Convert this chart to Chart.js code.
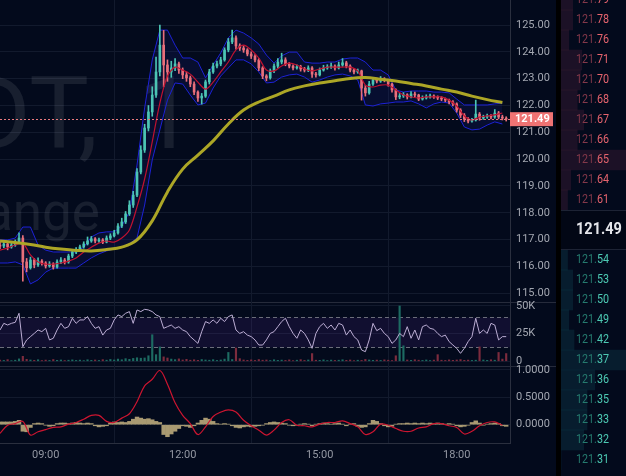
<!DOCTYPE html>
<html>
<head>
<meta charset="utf-8">
<title>Price chart</title>
<script src="https://cdn.jsdelivr.net/npm/chart.js@4.4.1/dist/chart.umd.min.js"></script>
<style>
  html, body { margin: 0; padding: 0; background: #030a1c; }
  body { width: 626px; height: 476px; position: relative; overflow: hidden; }
  canvas { position: absolute; display: block; }
  #mainChart { left: 0; top: 0; }
  #oscChart { left: 0; top: 296px; }
  #macdChart { left: 0; top: 360px; }
  #bookChart { left: 561px; top: 0; }
  .sep { position: absolute; background: #262b3b; }
</style>
</head>
<body>
<canvas id="mainChart" width="556" height="302"></canvas>
<div class="sep" style="left:0;top:302px;width:556px;height:1px"></div>
<div class="sep" style="left:0;top:366px;width:556px;height:1px"></div>
<canvas id="oscChart" width="556" height="70"></canvas>
<canvas id="macdChart" width="556" height="116"></canvas>
<div style="position:absolute;left:556px;top:0;width:5px;height:476px;background:#000"></div>
<canvas id="bookChart" width="65" height="476"></canvas>
<script>
"use strict";
// time axis in minutes since midnight
const sessionStart = 480; // 08:00
const sessionEnd = 1150;
const candleStep = 5;
const bandStep = 10;
const slowStep = 20;

const timeTicks = [540, 720, 900, 1080];
const timeLabels = ["09:00", "12:00", "15:00", "18:00"];
const priceTicks = [115, 116, 117, 118, 119, 120, 121, 122, 123, 124, 125];
const oscTicks = [0, 25, 50];
const oscTickLabels = ["0", "25K", "50K"];
const macdTicks = [0, 0.5, 1];
const macdTickLabels = ["0.0000", "0.5000", "1.0000"];

// 5 minute candles
const firstOpen = 116.80;
const closes = [116.76,116.84,116.73,116.80,116.88,117.06,116.17,115.95,116.24,116.06,
  116.20,116.13,116.02,116.09,115.98,116.17,116.24,116.17,116.39,116.54,
  116.61,116.73,116.84,116.95,117.03,116.95,116.99,116.91,117.06,117.14,
  117.25,117.51,117.66,117.96,118.29,118.66,119.52,120.34,121.16,121.76,
  122.39,123.25,124.25,123.51,123.25,123.40,123.55,123.32,123.14,123.03,
  122.80,122.50,122.28,122.35,122.88,123.25,123.47,123.55,123.70,124.07,
  124.37,124.52,124.22,124.14,124.07,123.92,123.84,123.70,123.40,123.10,
  123.03,123.29,123.47,123.62,123.70,123.55,123.47,123.40,123.44,123.36,
  123.32,123.40,123.17,123.14,123.32,123.40,123.44,123.47,123.40,123.51,
  123.59,123.47,123.32,123.25,123.29,122.65,122.47,122.80,122.95,122.91,
  122.99,122.95,122.80,122.58,122.32,122.36,122.40,122.32,122.43,122.39,
  122.24,122.28,122.32,122.35,122.32,122.28,122.24,122.20,122.13,122.06,
  121.83,121.64,121.49,121.42,121.46,121.68,121.53,121.57,121.61,121.57,
  121.72,121.57,121.53,121.49];
const highs = [116.92,116.95,116.90,116.88,116.99,117.25,117.15,116.30,116.35,116.30,
  116.32,116.26,116.18,116.18,116.14,116.25,116.33,116.30,116.46,116.62,
  116.70,116.80,116.92,117.10,117.12,117.08,117.06,117.04,117.14,117.22,
  117.35,117.60,117.80,118.05,118.45,118.80,119.65,120.50,121.30,122.00,
  122.70,123.80,125.00,124.80,123.70,123.65,123.75,123.62,123.40,123.25,
  123.10,122.88,122.55,122.45,122.95,123.35,123.58,123.66,123.80,124.15,
  124.50,124.81,124.60,124.30,124.22,124.12,124.00,123.90,123.75,123.45,
  123.15,123.36,123.55,123.75,123.95,123.78,123.60,123.52,123.52,123.50,
  123.42,123.48,123.45,123.24,123.40,123.50,123.52,123.58,123.52,123.62,
  123.75,123.65,123.52,123.38,123.36,123.32,122.75,122.90,123.05,123.02,
  123.08,123.04,122.98,122.84,122.62,122.45,122.48,122.44,122.52,122.50,
  122.42,122.36,122.40,122.43,122.40,122.36,122.33,122.28,122.24,122.18,
  122.10,121.88,121.70,121.55,121.52,122.20,121.74,121.64,121.68,121.66,
  121.85,121.78,121.64,121.58];
const lows = [116.66,116.70,116.62,116.68,116.75,116.85,115.45,115.80,115.90,115.95,
  116.00,116.05,115.94,115.97,115.90,115.94,116.10,116.09,116.12,116.33,
  116.48,116.56,116.68,116.80,116.90,116.88,116.90,116.85,116.88,117.00,
  117.10,117.20,117.45,117.60,117.90,118.20,118.60,119.45,120.25,121.05,
  121.60,122.30,123.10,122.70,122.90,123.05,123.30,123.20,123.00,122.90,
  122.70,122.40,122.15,122.05,122.30,122.80,123.20,123.40,123.48,123.65,
  124.00,124.30,124.10,124.05,123.98,123.85,123.75,123.62,123.30,123.00,
  122.92,122.98,123.22,123.40,123.55,123.48,123.40,123.33,123.35,123.28,
  123.25,123.26,123.05,123.06,123.10,123.28,123.35,123.38,123.32,123.36,
  123.46,123.40,123.25,123.18,123.20,122.20,122.35,122.42,122.75,122.84,
  122.86,122.88,122.72,122.50,122.22,122.25,122.30,122.24,122.28,122.32,
  122.18,122.20,122.24,122.27,122.26,122.22,122.18,122.14,122.06,121.98,
  121.75,121.55,121.40,121.35,121.38,121.42,121.45,121.48,121.52,121.50,
  121.52,121.50,121.46,121.42];

// 10 minute samples of the band indicator
const maMid = [116.61,116.69,116.80,116.87,116.43,116.17,116.09,116.09,116.13,116.20,
  116.32,116.54,116.72,116.87,116.95,116.91,117.06,117.36,118.22,119.26,
  120.64,122.09,123.10,123.43,123.32,123.17,122.87,122.61,122.87,123.25,
  123.62,124.07,124.25,124.07,123.77,123.32,123.29,123.47,123.58,123.51,
  123.36,123.29,123.36,123.43,123.43,123.43,123.43,123.29,122.76,122.69,
  122.76,122.76,122.58,122.39,122.32,122.28,122.32,122.32,122.32,122.20,
  121.98,121.61,121.46,121.57,121.61,121.65,121.72];
const bandUpper = [116.99,116.99,117.06,117.47,117.47,116.80,116.61,116.54,116.54,116.54,
  116.54,116.72,117.10,117.25,117.29,117.29,117.51,118.03,119.78,121.91,
  123.70,124.81,124.81,124.25,123.77,123.77,123.62,123.03,123.51,123.96,
  124.52,124.81,124.70,124.52,124.29,123.88,123.58,123.85,123.99,123.99,
  123.62,123.58,123.58,123.62,123.62,123.73,123.77,123.77,123.62,123.32,
  123.32,123.14,122.58,122.50,122.54,122.54,122.54,122.50,122.50,122.47,
  122.24,122.02,122.02,122.02,122.02,122.06,122.09];
const bandLower = [116.13,116.13,116.17,116.06,115.35,115.50,115.79,115.94,115.94,115.94,
  115.94,116.13,116.32,116.47,116.58,116.65,116.72,116.84,117.06,118.29,
  119.97,121.09,122.20,122.84,122.80,122.39,122.02,122.09,122.65,123.10,
  123.40,123.70,123.70,123.55,123.25,122.84,122.87,123.06,123.14,123.17,
  123.06,122.87,122.95,123.06,123.14,123.17,123.10,122.95,122.02,121.98,
  122.06,122.09,122.13,122.13,122.17,122.06,121.91,122.06,122.13,122.09,
  121.72,121.20,121.09,121.12,121.27,121.39,121.31];
// 20 minute samples of the slow average
const maSlow = [116.95,116.89,116.82,116.72,116.65,116.60,116.58,116.63,116.72,116.99,
  117.70,118.78,119.63,120.15,120.68,121.31,121.83,122.13,122.35,122.58,
  122.73,122.84,122.92,123.01,123.04,122.98,122.91,122.82,122.73,122.61,
  122.50,122.35,122.22,122.11];

// lower panes, 5 minute samples, values in thousands
const oscillator = [28.3,34.3,32.8,34.3,35.2,43.4,13.2,19.3,22.3,25.2,
  28.3,26.8,29.8,19.3,20.8,28.3,34.3,29.8,31.3,38.9,
  34.3,37.4,37.4,40.4,34.3,29.8,31.3,23.7,28.3,29.8,
  37.4,41.9,40.4,43.4,44.9,34.3,46.4,44.9,47.0,46.4,
  44.9,41.9,40.4,29.8,31.3,32.8,29.8,31.3,28.3,26.8,
  22.3,19.3,16.2,26.8,35.9,34.3,37.4,34.3,38.9,35.9,
  40.4,41.9,28.3,25.2,26.8,23.7,22.3,19.3,14.7,14.7,
  19.3,25.2,26.8,31.3,35.9,38.9,31.3,25.2,20.8,28.3,
  25.2,19.3,11.7,25.2,31.3,34.3,29.8,32.8,28.3,34.3,
  32.8,23.7,28.3,22.3,19.3,10.2,8.7,19.3,34.3,27.7,
  29.8,25.2,22.3,16.2,19.3,25.2,22.3,31.3,20.8,28.3,
  19.3,31.3,32.8,29.8,28.9,25.2,22.3,23.7,17.8,14.7,
  11.7,7.2,11.7,17.8,22.3,38.9,25.2,28.3,25.2,34.3,
  32.8,19.3,22.3,22.3];
const oscLevels = [40, 12.7];
const volume = [1.2,0.8,1.5,0.6,1.0,2.2,4.5,1.8,1.2,0.9,
  1.4,0.7,1.1,0.8,1.6,0.9,1.2,0.7,1.0,1.3,
  0.8,1.1,0.6,1.4,0.9,1.2,0.8,1.5,1.0,1.7,
  1.2,2.0,1.4,2.4,1.8,2.6,3.2,2.8,3.0,5.0,
  24.0,6.0,13.0,4.0,3.0,2.0,1.5,2.2,1.2,1.8,
  1.0,1.4,0.9,1.6,1.2,1.0,1.5,0.8,1.2,2.0,
  8.0,1.6,12.0,2.4,1.2,0.9,1.3,0.8,1.6,1.0,
  1.2,0.7,1.4,0.9,1.1,0.8,1.3,0.6,1.0,1.5,
  0.8,1.2,7.0,1.0,0.9,1.3,0.7,1.1,0.8,1.0,
  1.4,0.9,1.2,0.6,1.0,0.8,1.7,1.2,0.9,1.1,
  0.8,1.3,1.0,0.7,5.0,50.0,14.0,1.2,0.9,1.4,
  1.0,0.8,1.2,0.7,1.1,6.0,1.0,0.8,1.3,0.9,
  1.2,1.6,0.9,1.1,0.8,1.0,13.0,1.2,0.9,1.4,
  1.0,8.0,2.0,7.0];
const macdHist = [0.05,0.05,0.05,0.05,0.06,0.08,-0.12,-0.13,-0.05,0.02,
  0.03,0.02,-0.01,-0.03,-0.02,0.02,0.03,0.03,0.02,0.03,
  0.04,0.03,0.02,0.03,0.02,-0.02,-0.04,-0.03,-0.02,0.03,
  0.05,0.04,0.05,0.04,0.06,0.10,0.14,0.12,0.10,0.11,
  0.09,0.06,0.04,-0.18,-0.22,-0.17,-0.12,-0.07,-0.02,-0.03,
  -0.05,-0.02,0.03,0.08,0.12,0.10,0.06,0.02,0.01,0.02,
  0.01,-0.02,-0.05,-0.06,-0.04,-0.03,-0.04,-0.03,-0.02,-0.01,
  0.02,0.04,0.05,0.04,0.03,0.02,-0.01,-0.02,-0.01,0.01,
  0.02,0.01,-0.02,0.01,0.02,0.03,0.02,0.01,0.02,0.03,
  0.01,-0.02,0.01,0.02,-0.03,-0.05,-0.04,0.02,0.08,0.06,
  0.02,-0.02,-0.04,-0.03,0.01,0.02,0.02,0.03,0.02,0.03,
  0.02,0.03,0.02,0.03,0.02,0.03,0.02,0.01,0.02,0.01,
  -0.02,-0.04,-0.03,-0.01,0.04,0.07,0.03,-0.01,0.01,0.02,
  0.03,0.02,-0.02,-0.03];
// 10 minute samples
const macdLine = [-0.16,-0.01,0.02,0.06,-0.19,-0.13,-0.09,-0.05,-0.04,0.01,
  0.04,0.10,0.17,0.17,0.06,0.04,0.12,0.20,0.42,0.71,
  0.83,0.99,0.74,0.40,0.17,0.02,-0.18,-0.04,0.15,0.23,
  0.27,0.23,0.08,-0.02,-0.10,-0.19,-0.10,0.04,0.09,-0.01,
  -0.02,-0.04,0.01,0.04,0.04,0.07,0.02,-0.04,-0.18,-0.13,
  0.01,-0.01,-0.07,-0.12,-0.12,-0.06,-0.04,0.02,0.02,-0.02,
  -0.05,-0.17,-0.12,-0.02,0.04,0.05,-0.01];

// order book
const askPrices = ["121.79","121.78","121.76","121.71","121.70","121.68","121.67","121.66","121.65","121.64","121.61"];
const askDepth = [18, 18, 12, 32, 30, 25, 35, 25, 100, 15, 10];
const bidPrices = ["121.54","121.53","121.50","121.49","121.42","121.37","121.36","121.35","121.33","121.32","121.31"];
const bidDepth = [10, 18, 18, 12, 20, 100, 52, 40, 40, 35, 0];

const upColor = "#4cc4b4";
const downColor = "#e86f7b";
const gridColor = "#121a2d";
const axisLine = "#2a2f3e";
const labelColor = "#a3a7b1";

Chart.defaults.font.family = "Roboto, 'Noto Sans', sans-serif";

const atStep = (arr, step) => arr.map((v, i) => ({ x: sessionStart + i * step, y: v }));
const opens = closes.map((c, i) => i === 0 ? firstOpen : closes[i - 1]);
const candleColors = closes.map((c, i) => c >= opens[i] ? upColor : downColor);
const volColors = candleColors.map(c => c === upColor ? "#1d6b62" : "#7c2b3d");
const lastPrice = closes[closes.length - 1];

function xScale(showLabels) {
    return {
        type: "linear", min: sessionStart, max: sessionEnd, offset: false,
        afterBuildTicks: s => { s.ticks = timeTicks.map(v => ({ value: v })); },
        afterFit: s => { s.height = showLabels ? 33 : 0; s.paddingLeft = 0; s.paddingRight = 0; },
        grid: { color: gridColor, drawTicks: false },
        border: { display: showLabels, color: axisLine },
        ticks: { display: showLabels, color: "#9397a2", font: { size: 11 }, padding: 6, maxRotation: 0, autoSkip: false,
            callback: (v, i) => timeLabels[i] }
    };
}
function yScale(min, max, ticks, labels) {
    return {
        position: "right", min: min, max: max,
        afterBuildTicks: s => { s.ticks = ticks.map(v => ({ value: v })); },
        afterFit: s => { s.width = 46; s.paddingTop = 0; s.paddingBottom = 0; },
        grid: { color: gridColor, drawTicks: false },
        border: { display: true, color: axisLine },
        ticks: { color: labelColor, font: { size: 11 }, padding: 6, callback: (v, i) => labels[i] }
    };
}
function baseOptions(scales, padTop) {
    return {
        responsive: false, animation: false, events: [],
        layout: { padding: { top: padTop || 0, left: 0, right: 0, bottom: 0 } },
        plugins: { legend: { display: false }, tooltip: { enabled: false } },
        scales: scales
    };
}

// faint symbol watermark behind the candles
const watermark = {
    id: "watermark",
    beforeDatasetsDraw(chart) {
        const ctx = chart.ctx;
        ctx.save();
        ctx.fillStyle = "rgba(255,255,255,0.085)";
        ctx.font = "400 100px Roboto, 'Noto Sans', sans-serif";
        ctx.fillText("DT,", -35, 148);
        ctx.fillText("1", 138, 148);
        ctx.font = "400 53px Roboto, 'Noto Sans', sans-serif";
        ctx.fillText("ange", -16, 230);
        ctx.restore();
    }
};

// dashed last price line and its label on the axis
const lastPriceMark = {
    id: "lastPriceMark",
    afterDatasetsDraw(chart) {
        const { ctx, chartArea: a, scales: { y } } = chart;
        const py = Math.round(y.getPixelForValue(lastPrice)) + 0.5;
        ctx.save();
        ctx.strokeStyle = "#e87a7e";
        ctx.lineWidth = 1;
        ctx.setLineDash([2, 2]);
        ctx.beginPath(); ctx.moveTo(a.left, py); ctx.lineTo(a.right, py); ctx.stroke();
        ctx.restore();
    },
    afterDraw(chart) {
        const { ctx, chartArea: a, scales: { y } } = chart;
        const py = y.getPixelForValue(lastPrice);
        ctx.save();
        ctx.fillStyle = "#ef7373";
        ctx.fillRect(a.right, py - 7, 43, 14);
        ctx.fillStyle = "#ffffff";
        ctx.font = "bold 11px Roboto, sans-serif";
        ctx.textBaseline = "middle";
        ctx.fillText(lastPrice.toFixed(2), a.right + 5, py + 0.5);
        ctx.restore();
    }
};

const mainChart = new Chart("mainChart", {
    type: "line",
    data: {
        datasets: [
            { data: atStep(bandUpper, bandStep), borderColor: "#1d22d6", borderWidth: 1, pointRadius: 0,
              fill: "+1", backgroundColor: "rgba(32,36,150,0.17)", order: 6 },
            { data: atStep(bandLower, bandStep), borderColor: "#1d22d6", borderWidth: 1, pointRadius: 0,
              fill: false, order: 5 },
            { type: "bar", data: closes.map((c, i) => ({ x: sessionStart + i * candleStep, y: [lows[i], highs[i]] })),
              backgroundColor: candleColors, barThickness: 1, grouped: false, order: 4 },
            { type: "bar", data: closes.map((c, i) => ({ x: sessionStart + i * candleStep, y: [opens[i], c] })),
              backgroundColor: candleColors, barThickness: 2, minBarLength: 1, grouped: false, order: 3 },
            { data: atStep(maMid, bandStep), borderColor: "#bf1230", borderWidth: 1.2, pointRadius: 0,
              tension: 0.3, fill: false, order: 2 },
            { data: atStep(maSlow, slowStep), borderColor: "#aca626", borderWidth: 3, pointRadius: 0,
              tension: 0.4, fill: false, order: 1 }
        ]
    },
    options: baseOptions({
        x: xScale(false),
        y: yScale(114.676, 125.932, priceTicks, priceTicks.map(v => v.toFixed(2)))
    }),
    plugins: [watermark, lastPriceMark]
});

// shaded range of the oscillator pane
const oscBand = {
    id: "oscBand",
    beforeDatasetsDraw(chart) {
        const { ctx, chartArea: a, scales: { y } } = chart;
        const top = Math.round(y.getPixelForValue(oscLevels[0])) + 0.5;
        const bot = Math.round(y.getPixelForValue(oscLevels[1])) + 0.5;
        ctx.save();
        ctx.fillStyle = "rgba(100,50,170,0.15)";
        ctx.fillRect(a.left, top, a.right - a.left, bot - top);
        ctx.strokeStyle = "#6b6e7a";
        ctx.lineWidth = 1;
        ctx.setLineDash([4, 3]);
        [top, bot].forEach(p => { ctx.beginPath(); ctx.moveTo(a.left, p); ctx.lineTo(a.right, p); ctx.stroke(); });
        ctx.restore();
    }
};

const oscChart = new Chart("oscChart", {
    type: "line",
    data: {
        datasets: [
            { type: "bar", data: atStep(volume, candleStep), backgroundColor: volColors, barThickness: 1.5, order: 2 },
            { data: atStep(oscillator, candleStep), borderColor: "#bcaed4", borderWidth: 1, pointRadius: 0, fill: false, order: 1 }
        ]
    },
    options: baseOptions({
        x: xScale(false),
        y: yScale(-4.25, 53.6, oscTicks, oscTickLabels)
    }, 6),
    plugins: [oscBand]
});

const macdChart = new Chart("macdChart", {
    type: "line",
    data: {
        datasets: [
            { type: "bar", data: atStep(macdHist, candleStep), backgroundColor: "#a99a72",
              barPercentage: 1, categoryPercentage: 1, borderWidth: 0, order: 2 },
            { data: atStep(macdLine, bandStep), borderColor: "#cc1530", borderWidth: 1.2, pointRadius: 0,
              tension: 0.35, fill: false, order: 1 }
        ]
    },
    options: baseOptions({
        x: xScale(true),
        y: yScale(-0.335, 1.073, macdTicks, macdTickLabels)
    }, 6)
});

// price text of the book rows and the middle last price
const bookText = {
    id: "bookText",
    afterDatasetsDraw(chart) {
        const { ctx, chartArea: a, scales: { y } } = chart;
        ctx.save();
        ctx.textBaseline = "middle";
        const drawRow = (price, row, dim, bright) => {
            const py = y.getPixelForValue(row);
            const head = price.slice(0, 4);
            ctx.save();
            ctx.translate(15, py);
            ctx.scale(0.86, 1);
            ctx.font = "12.5px Roboto, sans-serif";
            ctx.fillStyle = dim;
            ctx.fillText(head, 0, 0);
            ctx.fillStyle = bright;
            ctx.fillText(price.slice(4), ctx.measureText(head).width, 0);
            ctx.restore();
        };
        askPrices.forEach((p, i) => drawRow(p, i, "#83384a", "#e6646e"));
        bidPrices.forEach((p, i) => drawRow(p, i + 13, "#257a6e", "#4dcab4"));
        const t = y.getPixelForValue(10.5), b = y.getPixelForValue(12.5);
        ctx.fillStyle = "#020715";
        ctx.fillRect(a.left, t, a.right - a.left, b - t);
        ctx.fillStyle = "#1d2334";
        ctx.fillRect(a.left, t, a.right - a.left, 1);
        ctx.fillRect(a.left, b - 1, a.right - a.left, 1);
        ctx.translate(15, y.getPixelForValue(11.5));
        ctx.scale(0.88, 1);
        ctx.font = "bold 16.5px Roboto, sans-serif";
        ctx.fillStyle = "#e4e5ea";
        ctx.fillText(lastPrice.toFixed(2), 0, 0);
        ctx.restore();
    }
};

const bookChart = new Chart("bookChart", {
    type: "bar",
    data: {
        datasets: [
            { data: askDepth.map((d, i) => ({ x: d, y: i })), backgroundColor: "rgba(110,40,72,0.24)",
              barThickness: 20, grouped: false },
            { data: bidDepth.map((d, i) => ({ x: d, y: i + 13 })), backgroundColor: "rgba(22,92,104,0.24)",
              barThickness: 20, grouped: false }
        ]
    },
    options: Object.assign(baseOptions({
        x: { type: "linear", min: 0, max: 100, display: false, offset: false },
        y: { type: "linear", min: 0, max: 23.8, reverse: true, display: false, offset: false }
    }), { indexAxis: "y" }),
    plugins: [bookText]
});
</script>
</body>
</html>
